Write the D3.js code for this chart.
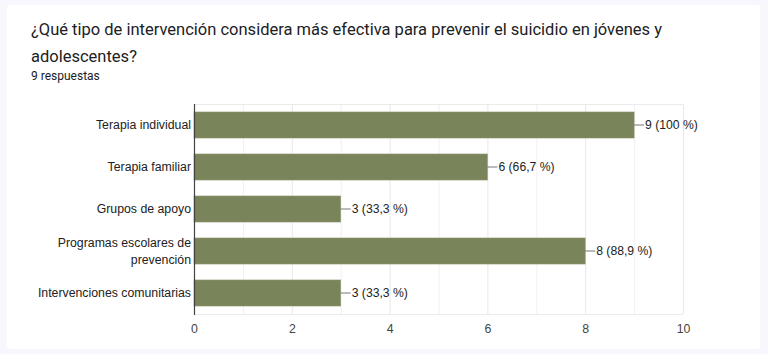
<!DOCTYPE html>
<html><head><meta charset="utf-8">
<script src="https://cdn.jsdelivr.net/npm/d3@7"></script>
<style>
html,body{margin:0;padding:0;background:#f8f7fd;}
svg{display:block;}
</style></head>
<body>
<svg id="c" width="768" height="354"></svg>
<script>
const categories = ["Terapia individual","Terapia familiar","Grupos de apoyo","Programas escolares de prevención","Intervenciones comunitarias"];
const labelLines = [["Terapia individual"],["Terapia familiar"],["Grupos de apoyo"],["Programas escolares de","prevención"],["Intervenciones comunitarias"]];
const values = [9,6,3,8,3];
const valueLabels = ["9 (100 %)","6 (66,7 %)","3 (33,3 %)","8 (88,9 %)","3 (33,3 %)"];
const xTicks = [0,2,4,6,8,10];
const gridTicks = [0,1,2,3,4,5,6,7,8,9,10];
const title = ["¿Qué tipo de intervención considera más efectiva para prevenir el suicidio en jóvenes y","adolescentes?"];
const subtitle = "9 respuestas";

const svg = d3.select("#c");
svg.append("rect").attr("x",7).attr("y",5).attr("width",753).attr("height",344).attr("rx",3).attr("fill","#ffffff");

const tg = svg.append("g").attr("font-family","Roboto, 'Noto Sans', sans-serif").attr("fill","#202124");
title.forEach((t,i)=>tg.append("text").attr("x",31).attr("y",35+i*27).attr("font-size",16.5).text(t));
tg.append("text").attr("x",31).attr("y",80).attr("font-size",12).text(subtitle);

const x0=194, x1=683, y0=104, y1=314;
const x = d3.scaleLinear().domain([0,10]).range([x0,x1]);
const y = d3.scaleBand().domain(categories).range([y0,y1]).paddingInner(0.38).paddingOuter(0.19);

const g = svg.append("g").attr("font-family","'Liberation Sans', Arial, sans-serif");
// grid
g.selectAll("line.grid").data(gridTicks).join("line")
  .attr("x1",d=>x(d)+0.5).attr("x2",d=>x(d)+0.5).attr("y1",y0).attr("y2",y1)
  .attr("stroke",d=>d%2===0?"#e8e8e8":"#f1f1f1").attr("stroke-width",1);
g.append("line").attr("x1",x0).attr("x2",x1).attr("y1",y0+0.5).attr("y2",y0+0.5).attr("stroke","#ebebeb");
g.append("line").attr("x1",x0).attr("x2",x1).attr("y1",y1+0.5).attr("y2",y1+0.5).attr("stroke","#ebebeb");

// bars
g.selectAll("rect.bar").data(values).join("rect")
  .attr("x",x(0)).attr("y",(d,i)=>y(categories[i]))
  .attr("width",d=>x(d)-x(0)).attr("height",y.bandwidth())
  .attr("fill","#7a845a").attr("stroke","#8e9870").attr("stroke-width",0.6);

// leader lines and value labels
values.forEach((v,i)=>{
  const cy = y(categories[i])+y.bandwidth()/2;
  g.append("line").attr("x1",x(v)).attr("x2",x(v)+10).attr("y1",cy).attr("y2",cy).attr("stroke","#777").attr("stroke-width",1);
  g.append("text").attr("x",x(v)+11).attr("y",cy).attr("dy","0.35em").attr("font-size",12.2).attr("fill","#222").text(valueLabels[i]);
});

// y axis line
g.append("line").attr("x1",x0+0.5).attr("x2",x0+0.5).attr("y1",y0).attr("y2",y1+1).attr("stroke","#444").attr("stroke-width",1.2);

// category labels
labelLines.forEach((lines,i)=>{
  const cy = y(categories[i])+y.bandwidth()/2;
  const n = lines.length;
  lines.forEach((l,j)=>{
    g.append("text").attr("x",x0-3).attr("y",cy+(j-(n-1)/2)*17).attr("dy","0.35em")
      .attr("text-anchor","end").attr("font-size",12.3).attr("fill","#222").text(l);
  });
});

// x tick labels
const xa = d3.axisBottom(x).tickValues(xTicks).tickSize(0).tickPadding(10);
const ax = g.append("g").attr("transform",`translate(0,${y1})`).call(xa);
ax.select(".domain").remove();
ax.selectAll("text").attr("font-size",12.3).attr("fill","#444").attr("font-family","'Liberation Sans', Arial, sans-serif");
</script>
</body></html>
